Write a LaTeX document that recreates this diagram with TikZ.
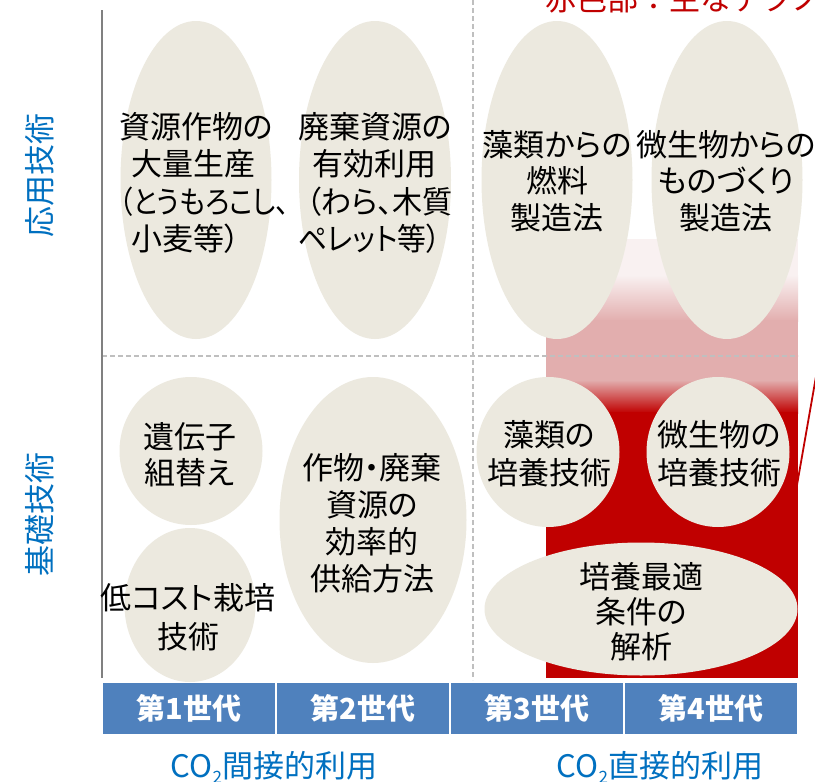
\documentclass[tikz,border=0pt]{standalone}
\usepackage{fontspec}
\setmainfont{Noto Sans CJK JP}[RawFeature=+palt]
\newfontfamily\jpfull{Noto Sans CJK JP}
\usetikzlibrary{shapes.geometric}
\definecolor{ellfill}{RGB}{236,233,223}
\definecolor{darkred}{RGB}{192,0,0}
\definecolor{pinkmid}{RGB}{226,174,174}
\definecolor{pinklight}{RGB}{249,241,241}
\definecolor{boxblue}{RGB}{79,129,189}
\definecolor{labblue}{RGB}{0,112,192}
\definecolor{dashgray}{RGB}{191,191,191}
\definecolor{axisgray}{RGB}{128,128,128}
\begin{document}
\begin{tikzpicture}[x=1pt,y=-1pt,
  ell/.style={ellipse, fill=ellfill, inner sep=0pt},
  etext/.style={align=center, inner sep=0pt, text=black, font=\fontsize{31}{37.5}\selectfont},
  genbox/.style={fill=boxblue, minimum width=172pt, minimum height=51pt, inner sep=0pt, text=white, font=\jpfull\fontsize{29}{29}\selectfont\bfseries},
  sidelab/.style={rotate=90, text=labblue, inner sep=0pt, font=\jpfull\fontsize{31}{31}\selectfont},
  bottomlab/.style={text=labblue, inner sep=0pt, font=\fontsize{31}{31}\selectfont},
  gridline/.style={dashgray, line width=1.5pt, dash pattern=on 5pt off 3pt}]
\useasboundingbox (0,0) rectangle (815,782);
\clip (0,0) rectangle (815,782);
\fill[white] (0,0) rectangle (815,782);

% red gradient region
\fill[pinklight] (546,239) rectangle (798,276);
\shade[top color=pinklight, bottom color=pinkmid] (546,275) rectangle (798,321);
\fill[pinkmid] (546,320) rectangle (798,381);
\shade[top color=pinkmid, bottom color=darkred] (546,380) rectangle (798,413);
\fill[darkred] (546,412) rectangle (798,678);

% grid lines
\coordinate (vtop) at (473,0);
\coordinate (vbot) at (473,680);
\coordinate (hl) at (102,356);
\coordinate (hr) at (798,356);
\draw[gridline] (vtop) -- (vbot);
\draw[gridline] (hl) -- (hr);
\coordinate (atop) at (102,10);
\coordinate (abot) at (102,678);
\draw[axisgray, line width=2pt] (atop) -- (abot);

% ellipses
\node[ell, minimum width=151pt, minimum height=318pt] (e1) at (196,180) {};
\node[ell, minimum width=152pt, minimum height=318pt] (e2) at (375,180) {};
\node[ell, minimum width=151pt, minimum height=318pt] (e3) at (557,180) {};
\node[ell, minimum width=151pt, minimum height=318pt] (e4) at (727,180) {};
\node[ell, minimum width=143pt, minimum height=148pt] (e5) at (191,451) {};
\node[ell, minimum width=131pt, minimum height=154pt] (e6) at (190,605) {};
\node[ell, minimum width=187pt, minimum height=286pt] (e7) at (373,520) {};
\node[ell, minimum width=143pt, minimum height=150pt] (e8) at (548,452) {};
\node[ell, minimum width=143pt, minimum height=150pt] (e9) at (718,452) {};
\node[ell, minimum width=313pt, minimum height=133pt] (e10) at (641,609) {};

% ellipse texts
\node[etext, align=left, anchor=west] (t1) at (119,183) {資源作物の\\\hspace{12pt}大量生産\\\scalebox{0.88}[1]{（とうもろこし、}\\\hspace{12pt}小麦等）};
\node[etext, align=left, anchor=west] (t2) at (298,183) {廃棄資源の\\\hspace{14pt}有効利用\\\hspace{8pt}\scalebox{0.97}[1]{（わら、木質}\\\scalebox{0.93}[1]{ペレット等）}};
\node[etext, font=\fontsize{31}{36.5}\selectfont] (t3) at (557,181) {藻類からの\\燃料\\製造法};
\node[etext, font=\fontsize{31}{36.5}\selectfont] (t4) at (726,181) {微生物からの\\ものづくり\\製造法};
\node[etext, font=\fontsize{31}{36}\selectfont] (t5) at (190,455) {遺伝子\\組替え};
\node[etext, font=\fontsize{31}{39}\selectfont] (t6) at (188,617) {低コスト栽培\\技術};
\node[etext, font=\fontsize{31}{37}\selectfont] (t7) at (372,523) {作物・廃棄\\資源の\\効率的\\供給方法};
\node[etext, font=\fontsize{31}{38}\selectfont] (t8) at (549,454) {藻類の\\培養技術};
\node[etext, font=\fontsize{31}{38}\selectfont] (t9) at (719,454) {微生物の\\培養技術};
\node[etext, font=\fontsize{31}{35}\selectfont] (t10) at (641,612) {培養最適\\条件の\\解析};

% generation boxes
\node[genbox] (g1) at (189,708.5) {第1世代};
\node[genbox] (g2) at (363,708.5) {第2世代};
\node[genbox] (g3) at (537,708.5) {第3世代};
\node[genbox] (g4) at (711,708.5) {第4世代};

% side labels
\node[sidelab] (s1) at (40,175) {応用技術};
\node[sidelab] (s2) at (40,514) {基礎技術};

% bottom labels
\node[bottomlab] (b1) at (274,767) {CO\raisebox{-0.35ex}{\fontsize{17}{17}\selectfont 2}間接的利用};
\node[bottomlab] (b2) at (660,767) {CO\raisebox{-0.35ex}{\fontsize{17}{17}\selectfont 2}直接的利用};

% red callout line
\coordinate (rl1) at (797,485);
\coordinate (rl2) at (821,348);
\draw[darkred, line width=1.8pt] (rl1) -- (rl2);

% top red text (cut off)
\node[text=darkred, inner sep=0pt, anchor=base west, font=\jpfull\fontsize{31}{31}\selectfont] (top) at (545,10) {赤色部：主なテクノロジー};
\end{tikzpicture}
\end{document}
